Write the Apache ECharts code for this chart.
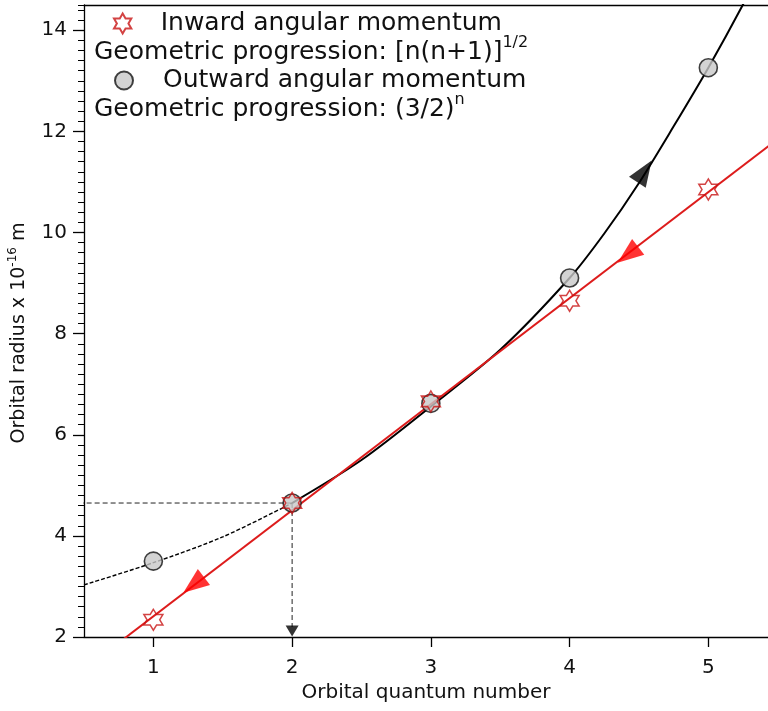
<!DOCTYPE html>
<html>
<head>
<meta charset="utf-8">
<script src="https://cdn.jsdelivr.net/npm/echarts@6/dist/echarts.min.js"></script>
<style>
html,body{margin:0;padding:0;background:#fff;}
#chart{width:768px;height:711px;}
</style>
</head>
<body>
<div id="chart"></div>
<script>
// ---- data ----
const xTicks = [1, 2, 3, 4, 5];
const yTicks = [2, 4, 6, 8, 10, 12, 14];
const quantumN = [1, 2, 3, 4, 5];
const inwardR = [2.34, 4.65, 6.66, 8.65, 10.85];
const outwardR = [3.50, 4.65, 6.62, 9.10, 13.26];
const inwardFitN = [0.5, 5.5];
const inwardFitR = [1.36, 11.85];
const outwardLowN = [0.5, 1, 1.5, 2];
const outwardLowR = [3.03, 3.47, 3.98, 4.65];
const outwardHighN = [2, 2.5, 3, 3.5, 4, 4.25, 4.5, 4.75, 5, 5.25, 5.5];
const outwardHighR = [4.65, 5.50, 6.56, 7.68, 9.10, 9.98, 10.98, 12.10, 13.26, 14.51, 15.85];
const overlapN = [0, 2];
const overlapR = [4.65, 4.65];
const overlapDropR = [4.65, 2.2];
const overlapTipR = [2.12];
const inwardArrowN = [1.29, 4.42];
const inwardArrowR = [3.03, 9.56];
const outwardArrowN = [4.54];
const outwardArrowR = [11.21];
const noteN = [0.771];
const noteR = [4.56];
const noteText = 'Radii overlap\nfor n=2';
const inwardName = 'Inward angular momentum';
const outwardName = 'Outward angular momentum';

const FONT = 'DejaVu Sans';
const zip = (a, b) => a.map((v, i) => [v, b[i]]);
const HEX = 'path://M0,-100 L-28.87,-50 L-86.6,-50 L-57.7,0 L-86.6,50 L-28.87,50 L0,100 L28.87,50 L86.6,50 L57.7,0 L86.6,-50 L28.87,-50 Z';
const ARROW = 'path://M0,0 L9,26 L-9,26 Z';
const LEG = 25;

const chart = echarts.init(document.getElementById('chart'), null, {renderer: 'canvas'});
const option = {
  animation: false,
  backgroundColor: '#fff',
  textStyle: {fontFamily: FONT},
  grid: {left: 84, right: 0, top: 5, bottom: 74, containLabel: false, outerBoundsMode: 'none'},
  legend: [
    {data: [inwardName], left: 113, top: 11, itemWidth: 20, itemHeight: 20, itemGap: 0, padding: 0,
     textStyle: {fontSize: LEG, color: '#111', fontFamily: FONT, padding: [0, 0, 0, 23]}},
    {data: [outwardName], left: 114, top: 68, itemWidth: 18, itemHeight: 18, itemGap: 0, padding: 0,
     textStyle: {fontSize: LEG, color: '#111', fontFamily: FONT, padding: [0, 0, 0, 25]}}
  ],
  graphic: [
    {type: 'text', left: 94, top: 35, silent: true,
     style: {text: '{a|Geometric progression: [n(n+1)]}{s|1/2}',
       rich: {a: {fontSize: LEG, fontFamily: FONT, fill: '#111', lineHeight: 30, verticalAlign: 'bottom'},
              s: {fontSize: 16, fontFamily: FONT, fill: '#111', lineHeight: 30, verticalAlign: 'top'}}}},
    {type: 'text', left: 94, top: 92, silent: true,
     style: {text: '{a|Geometric progression: (3/2)}{s|n}',
       rich: {a: {fontSize: LEG, fontFamily: FONT, fill: '#111', lineHeight: 30, verticalAlign: 'bottom'},
              s: {fontSize: 16, fontFamily: FONT, fill: '#111', lineHeight: 30, verticalAlign: 'top'}}}}
  ],
  xAxis: [
    {type: 'value', min: 0.5, max: 5.43, position: 'bottom',
     name: 'Orbital quantum number', nameLocation: 'middle', nameGap: 45,
     nameTextStyle: {fontSize: 20, color: '#111', fontFamily: FONT},
     axisLine: {show: true, onZero: false, lineStyle: {color: '#000', width: 1.3}},
     axisTick: {show: true, customValues: xTicks, length: 10, inside: false, lineStyle: {color: '#000', width: 1.3}},
     axisLabel: {show: true, customValues: xTicks, margin: 21, fontSize: 20, color: '#111', fontFamily: FONT},
     splitLine: {show: false}},
    {type: 'value', min: 0.5, max: 5.43, position: 'top',
     axisLine: {show: true, onZero: false, lineStyle: {color: '#000', width: 1.3}},
     axisTick: {show: false}, axisLabel: {show: false}, splitLine: {show: false}}
  ],
  yAxis: [
    {type: 'value', min: 2, max: 14.5, interval: 2, position: 'left',
     name: 'Orbital radius x 10{s|-16} m', nameLocation: 'middle', nameGap: 46, nameRotate: 90,
     nameTextStyle: {fontSize: 19, color: '#111', fontFamily: FONT, lineHeight: 24, padding: [0, 24, 0, 0],
       rich: {s: {fontSize: 12, fontFamily: FONT, color: '#111', verticalAlign: 'top', lineHeight: 24}}},
     axisLine: {show: true, onZero: false, lineStyle: {color: '#000', width: 1.3}},
     axisTick: {show: true, customValues: yTicks, length: 11, inside: false, lineStyle: {color: '#000', width: 1.3}},
     axisLabel: {show: true, customValues: yTicks, margin: 17, fontSize: 20, color: '#111', fontFamily: FONT},
     splitLine: {show: false}},
    {type: 'value', min: 2, max: 14.5, interval: 0.2, position: 'left',
     axisLine: {show: false},
     axisTick: {show: true, length: 6, inside: false, lineStyle: {color: '#000', width: 1}},
     axisLabel: {show: false}, splitLine: {show: false}}
  ],
  series: [
    {type: 'line', name: 'outward fit (extrapolated)', data: zip(outwardLowN, outwardLowR),
     smooth: 0.3, showSymbol: false, symbol: 'none', z: 2,
     lineStyle: {color: '#000', width: 1.4, type: [4, 2]}},
    {type: 'line', name: 'outward fit', data: zip(outwardHighN, outwardHighR),
     smooth: 0.3, showSymbol: false, symbol: 'none', z: 2,
     lineStyle: {color: '#000', width: 2}},
    {type: 'line', name: 'overlap guide h', data: zip(overlapN, overlapR), clip: false,
     showSymbol: false, symbol: 'none', z: 1, lineStyle: {color: '#222', width: 1, type: [5, 3]}},
    {type: 'line', name: 'overlap guide v', data: zip([overlapN[1], overlapN[1]], overlapDropR),
     showSymbol: false, symbol: 'none', z: 1, lineStyle: {color: '#222', width: 1, type: [5, 3]}},
    {type: 'scatter', name: 'overlap tip', data: zip([overlapN[1]], overlapTipR),
     symbol: 'triangle', symbolSize: [13, 11], symbolRotate: 180, z: 3, itemStyle: {color: '#000'}},
    {type: 'line', name: 'inward fit', data: zip(inwardFitN, inwardFitR),
     showSymbol: false, symbol: 'none', z: 3, lineStyle: {color: '#dd1c1c', width: 2}},
    {type: 'scatter', name: outwardName, data: zip(quantumN, outwardR),
     symbol: 'circle', symbolSize: 18, z: 4,
     itemStyle: {color: '#c8c8c8', borderColor: '#111', borderWidth: 1.6}},
    {type: 'scatter', name: inwardName, data: zip(quantumN, inwardR),
     symbol: HEX, symbolSize: [19, 21], z: 5,
     itemStyle: {color: 'rgba(255,255,255,0)', borderColor: '#c81414', borderWidth: 1.5}},
    {type: 'scatter', name: 'inward arrows', data: zip(inwardArrowN, inwardArrowR),
     symbol: ARROW, symbolSize: [20, 26], symbolRotate: 127.5, z: 6, itemStyle: {color: '#ff0000'}},
    {type: 'scatter', name: 'outward arrow', data: zip(outwardArrowN, outwardArrowR),
     symbol: ARROW, symbolSize: [20, 26], symbolRotate: -33.3, z: 6, itemStyle: {color: '#000'}},
    {type: 'scatter', name: 'note', data: zip(noteN, noteR), symbolSize: 1, z: 6,
     itemStyle: {opacity: 0},
     label: {show: true, position: 'right', distance: 0, formatter: noteText, fontSize: 17,
       fontStyle: 'italic', color: '#333', lineHeight: 21, fontFamily: FONT}}
  ]
};
chart.setOption(option);
</script>
</body>
</html>
